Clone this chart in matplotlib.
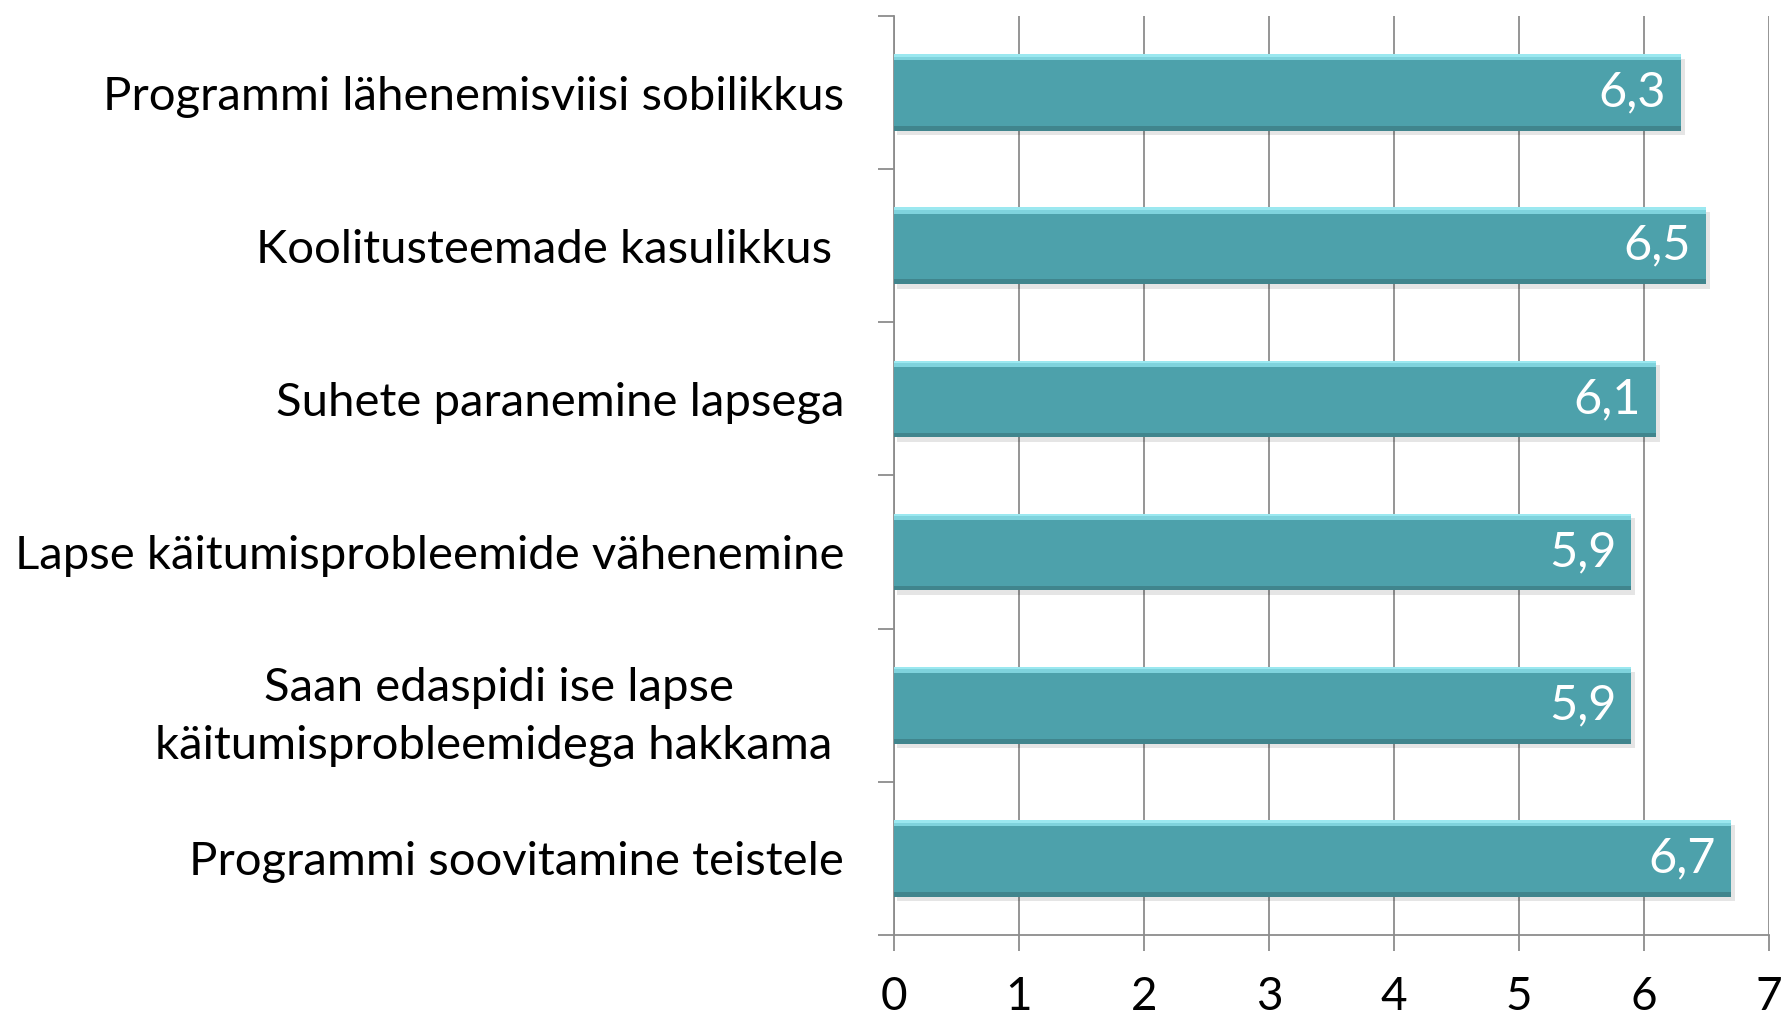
import numpy as np
import matplotlib.pyplot as plt

categories = ['Programmi lähenemisviisi sobilikkus',
              'Koolitusteemade kasulikkus ',
              'Suhete paranemine lapsega',
              'Lapse käitumisprobleemide vähenemine',
              'Saan edaspidi ise lapse\nkäitumisprobleemidega hakkama ',
              'Programmi soovitamine teistele']
values = [6.3, 6.5, 6.1, 5.9, 5.9, 6.7]
labels = ['6,3', '6,5', '6,1', '5,9', '5,9', '6,7']
xticks = [0, 1, 2, 3, 4, 5, 6, 7]

plt.rcParams['font.family'] = ['Lato', 'DejaVu Sans']

fig = plt.figure(figsize=(17.82, 10.24), dpi=100)
ax = fig.add_axes([0.5017, 0.0869, 0.4910, 0.8975])

y = np.arange(len(categories))
h = 0.5

# shadow
ax.barh(y + 0.03, values, height=h, left=0.025, color='#000000', alpha=0.10, zorder=2)
# main bar
ax.barh(y, values, height=h, color='#4DA1AB', zorder=3)
# bevel: light top, dark bottom
ax.barh(y - h/2 + 0.02, values, height=0.04, color='#7FD3DD', zorder=4)
ax.barh(y - h/2 + 0.008, values, height=0.016, color='#9BE8F0', zorder=4)
ax.barh(y + h/2 - 0.015, values, height=0.03, color='#40858D', zorder=4)

for yi, v, lab in zip(y, values, labels):
    ax.annotate(lab, (v, yi), xytext=(-11, 0), textcoords='offset points',
                ha='right', va='center', color='white', fontsize=35, zorder=5)

ax.set_xlim(0, 7)
ax.set_ylim(len(categories) - 0.5, -0.5)
ax.set_xticks(xticks)
ax.set_xticklabels([str(t) for t in xticks])
ax.set_yticks(np.arange(len(categories) + 1) - 0.5, minor=True)
ax.set_yticks(y)
ax.set_yticklabels(categories, multialignment='center', linespacing=1.45)
ax.tick_params(axis='y', which='major', length=0, pad=36, labelsize=34)
ax.tick_params(axis='y', which='minor', length=11.5, width=1.3, color='#8C8C8C', direction='out')
ax.tick_params(axis='x', length=11.5, width=1.3, color='#8C8C8C', direction='out', pad=18, labelsize=33)

ax.grid(axis='x', color='#8C8C8C', lw=1.3, zorder=0)
ax.set_axisbelow(True)
for s in ['top', 'right']:
    ax.spines[s].set_visible(False)
for s in ['left', 'bottom']:
    ax.spines[s].set_color('#8C8C8C')
    ax.spines[s].set_linewidth(1.3)

fig.savefig('out.png', dpi=100)
